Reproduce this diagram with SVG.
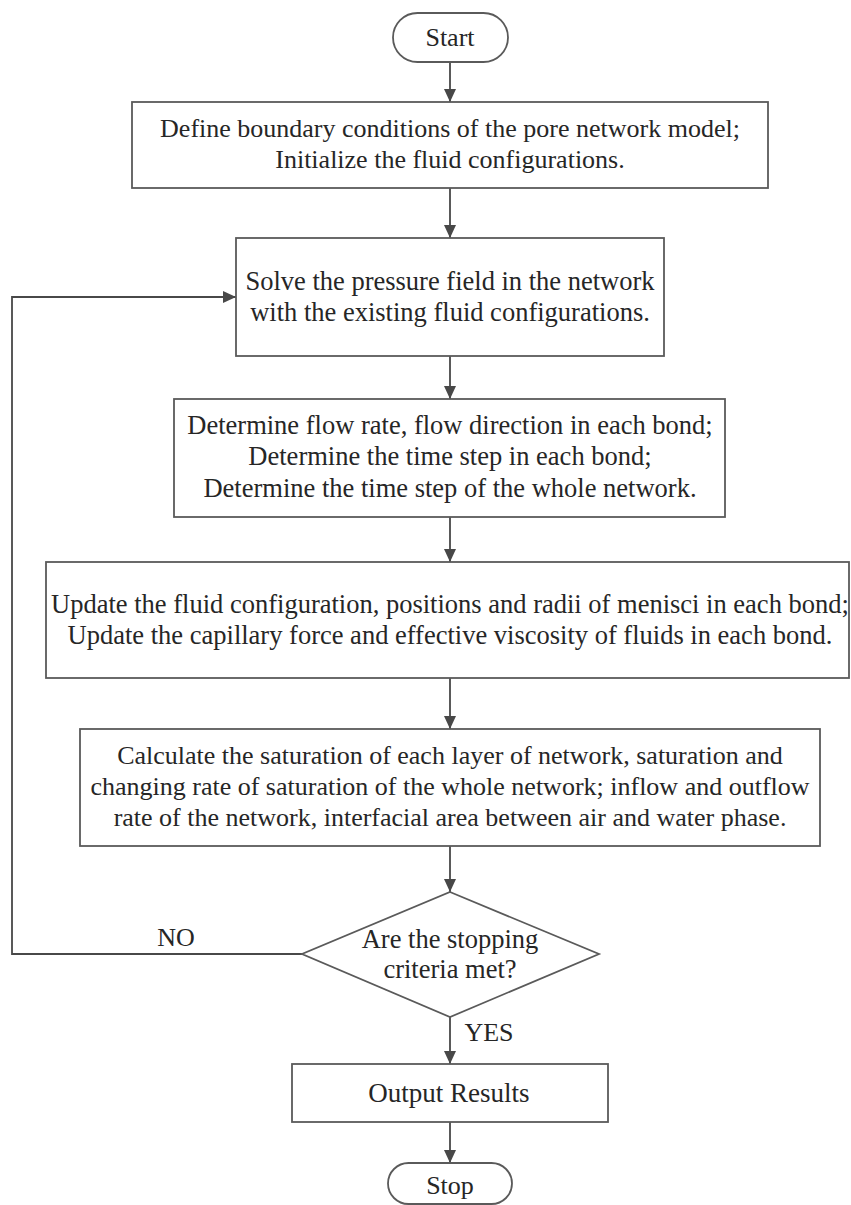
<svg xmlns="http://www.w3.org/2000/svg" width="851" height="1205" viewBox="0 0 851 1205">
  <style>
    .shape { fill: #ffffff; stroke: #5a5a5a; stroke-width: 1.8; }
    .conn { fill: none; stroke: #484848; stroke-width: 1.8; }
    text { font-family: "Liberation Serif", "Times New Roman", serif; font-size: 26px; fill: #262626; text-anchor: middle; }
    .lg { font-size: 26.5px; }
    .xl { font-size: 27px; }
  </style>
  <defs>
    <marker id="arrow" viewBox="0 0 13 12" refX="13" refY="6" markerWidth="13" markerHeight="12" markerUnits="userSpaceOnUse" orient="auto">
      <path d="M0,0 L13,6 L0,12 Z" fill="#484848"/>
    </marker>
  </defs>
  <rect width="851" height="1205" fill="#ffffff"/>

  <!-- connectors -->
  <g id="connectors">
    <line class="conn" x1="450" y1="62" x2="450" y2="102" marker-end="url(#arrow)"/>
    <line class="conn" x1="450" y1="188" x2="450" y2="238" marker-end="url(#arrow)"/>
    <line class="conn" x1="450" y1="356" x2="450" y2="399" marker-end="url(#arrow)"/>
    <line class="conn" x1="450" y1="517" x2="450" y2="562" marker-end="url(#arrow)"/>
    <line class="conn" x1="450" y1="678" x2="450" y2="729" marker-end="url(#arrow)"/>
    <line class="conn" x1="450" y1="846" x2="450" y2="892" marker-end="url(#arrow)"/>
    <line class="conn" x1="450" y1="1017" x2="450" y2="1064" marker-end="url(#arrow)"/>
    <line class="conn" x1="450" y1="1122" x2="450" y2="1163" marker-end="url(#arrow)"/>
    <polyline class="conn" points="302,954 12,954 12,297 236,297" marker-end="url(#arrow)"/>
    <text x="176" y="946">NO</text>
    <text x="489" y="1041">YES</text>
  </g>

  <g id="start">
    <rect class="shape" x="393" y="13" width="115" height="49" rx="24.5" ry="24.5"/>
    <text x="450" y="46">Start</text>
  </g>

  <g id="init">
    <rect class="shape" x="132" y="102" width="636" height="86"/>
    <text x="450" y="137">Define boundary conditions of the pore network model;</text>
    <text x="450" y="168">Initialize the fluid configurations.</text>
  </g>

  <g id="pressure">
    <rect class="shape" x="236" y="238" width="428" height="118"/>
    <text class="lg" x="450" y="290">Solve the pressure field in the network</text>
    <text class="lg" x="450" y="321">with the existing fluid configurations.</text>
  </g>

  <g id="flowrate">
    <rect class="shape" x="174" y="399" width="551" height="118"/>
    <text class="lg" x="450" y="434">Determine flow rate, flow direction in each bond;</text>
    <text class="lg" x="450" y="465">Determine the time step in each bond;</text>
    <text class="lg" x="450" y="497">Determine the time step of the whole network.</text>
  </g>

  <g id="update">
    <rect class="shape" x="46" y="562" width="803" height="116"/>
    <text class="lg" x="450" y="613">Update the fluid configuration, positions and radii of menisci in each bond;</text>
    <text class="lg" x="450" y="644">Update the capillary force and effective viscosity of fluids in each bond.</text>
  </g>

  <g id="saturation">
    <rect class="shape" x="80" y="729" width="740" height="117"/>
    <text x="450" y="764">Calculate the saturation of each layer of network, saturation and</text>
    <text x="450" y="795">changing rate of saturation of the whole network; inflow and outflow</text>
    <text x="450" y="826">rate of the network, interfacial area between air and water phase.</text>
  </g>

  <g id="decision">
    <polygon class="shape" points="450,892 599,954 450,1017 302,954"/>
    <text class="lg" x="450" y="948">Are the stopping</text>
    <text class="lg" x="450" y="978">criteria met?</text>
  </g>

  <g id="output">
    <rect class="shape" x="292" y="1064" width="316" height="58"/>
    <text class="xl" x="449" y="1102">Output Results</text>
  </g>

  <g id="stop">
    <rect class="shape" x="388" y="1163" width="124" height="41" rx="20.5" ry="20.5"/>
    <text x="450" y="1194">Stop</text>
  </g>
</svg>
